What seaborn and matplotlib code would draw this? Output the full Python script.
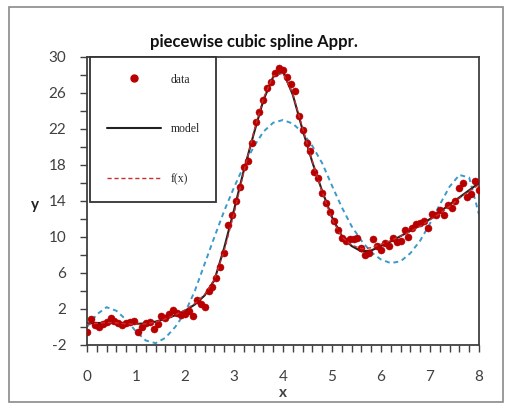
import numpy as np
import pandas as pd
import matplotlib
matplotlib.use("Agg")
import matplotlib.pyplot as plt
from matplotlib.lines import Line2D
from matplotlib.patches import Rectangle
from matplotlib.ticker import MultipleLocator
import seaborn as sns

# ---- data ----
data_x = [round(0.08 * i, 2) for i in range(101)]
data_y = [-0.6, 0.9, 0.2, 0.0, 0.3, 0.6, 1.0, 0.7, 0.4, 0.2,
          0.5, 0.6, 0.7, -0.5, 0.0, 0.5, 0.6, -0.2, 0.3, 1.2,
          1.0, 1.5, 1.9, 1.6, 1.3, 1.5, 1.8, 1.2, 3.0, 2.6,
          2.2, 4.0, 4.4, 5.5, 6.7, 8.2, 11.3, 12.4, 14.0, 15.6,
          17.8, 18.4, 20.4, 22.8, 23.9, 25.2, 26.6, 27.2, 28.2, 28.8,
          28.6, 27.8, 27.0, 26.2, 23.5, 21.9, 20.4, 19.6, 17.2, 16.6,
          14.9, 13.8, 12.8, 11.8, 10.8, 9.9, 9.6, 9.8, 9.8, 9.9,
          8.8, 8.0, 8.2, 9.8, 9.0, 8.6, 9.3, 9.0, 9.9, 9.4,
          9.6, 10.8, 10.0, 11.0, 11.4, 11.6, 11.8, 11.0, 12.6, 12.4,
          13.0, 12.4, 13.6, 13.2, 14.0, 15.4, 16.0, 14.4, 14.8, 16.2,
          15.2]

curve_x = [round(0.2 * i, 1) for i in range(41)]
model_y = [0.4, 0.45, 0.45, 0.4, 0.35, 0.35, 0.4, 0.6, 0.9, 1.3,
           1.8, 2.5, 3.5, 5.2, 8.8, 13.0, 17.4, 21.4, 25.2, 27.8,
           28.4, 25.8, 21.9, 18.3, 15.1, 12.2, 10.1, 9.0, 8.4, 8.5,
           9.0, 9.5, 10.1, 10.7, 11.3, 12.0, 12.8, 13.6, 14.4, 15.2,
           16.0]
fx_y = [0.3, 0.4, 0.5, 0.45, 0.35, 0.3, 0.35, 0.55, 0.9, 1.35,
        1.9, 2.6, 3.6, 5.3, 8.5, 12.6, 17.2, 21.6, 25.4, 27.9,
        28.2, 25.9, 22.1, 18.4, 15.0, 12.0, 10.0, 9.1, 8.7, 8.8,
        9.2, 9.6, 10.1, 10.6, 11.2, 11.9, 12.6, 13.4, 14.3, 15.1,
        15.8]
approx_y = [0.0, 1.4, 2.2, 1.8, 0.8, -0.5, -1.5, -1.8, -1.2, 0.0,
            1.6, 4.0, 7.0, 10.0, 12.9, 15.5, 17.9, 20.0, 21.7, 22.7,
            23.0, 22.6, 21.6, 20.1, 18.2, 15.7, 13.3, 11.2, 9.6, 8.3,
            7.5, 7.1, 7.3, 8.2, 9.6, 11.5, 13.6, 15.6, 16.9, 16.6,
            12.5]

title = "piecewise cubic spline Appr."
legend_labels = ["data", "model", "f(x)"]
x_ticks = [0, 1, 2, 3, 4, 5, 6, 7, 8]
y_ticks = [-2, 2, 6, 10, 14, 18, 22, 26, 30]

df_data = pd.DataFrame({"x": data_x, "y": data_y})
df_curves = pd.DataFrame({"x": curve_x, "model": model_y, "fx": fx_y, "approx": approx_y})

sns.set_style("ticks")
plt.rcParams["axes.unicode_minus"] = False
plt.rcParams["font.family"] = ["Lato", "DejaVu Sans"]

fig = plt.figure(figsize=(5.08, 4.04), dpi=100)
ax = fig.add_axes([87/508, 1 - 345/404, 392/508, 288/404])

red = "#B80000"
blue = "#3A9AC9"
fx_red = "#C83030"

sns.lineplot(data=df_curves, x="x", y="approx", ax=ax, color=blue, lw=1.4,
             linestyle=(0, (2.5, 2)), zorder=2)
sns.lineplot(data=df_curves, x="x", y="model", ax=ax, color="#222222", lw=1.5, zorder=3)
sns.scatterplot(data=df_data, x="x", y="y", ax=ax, color=red, s=26, edgecolor=red,
                linewidth=0.3, zorder=4)
sns.lineplot(data=df_curves, x="x", y="fx", ax=ax, color=fx_red, lw=1.0,
             linestyle=(0, (3, 2)), zorder=5)

ax.set_xlim(0, 8)
ax.set_ylim(-2, 30)
ax.set_xticks(x_ticks)
ax.set_yticks(y_ticks)
ax.xaxis.set_minor_locator(MultipleLocator(0.2))
ax.yaxis.set_minor_locator(MultipleLocator(2))
ax.tick_params(axis="both", which="both", direction="out", length=5, width=1,
               color="#404040", labelcolor="#404040", labelsize=11)
ax.tick_params(axis="x", which="major", pad=13)
ax.tick_params(axis="y", which="major", pad=10)
for sp in ax.spines.values():
    sp.set_visible(True)
    sp.set_color("#404040")
    sp.set_linewidth(1.3)

ax.set_xlabel("")
ax.set_ylabel("")
fig.text(283/508, 1 - 393/404, "x", ha="center", va="center", fontsize=11,
         fontweight="bold", color="#404040")
fig.text(35/508, 1 - 205/404, "y", ha="center", va="center", fontsize=11,
         fontweight="bold", color="#222222")
fig.text(0.5, 1 - 42/404, title, ha="center", va="center", fontsize=12,
         fontweight="bold", color="#111111")

handles = [
    Line2D([], [], marker="o", color=red, linestyle="none", markersize=5),
    Line2D([], [], color="#222222", lw=1.5),
    Line2D([], [], color=fx_red, lw=1.0, linestyle=(0, (3, 2))),
]
leg = ax.legend(handles, legend_labels, loc="upper left",
                bbox_to_anchor=(0.008, 1.0), frameon=True, fancybox=False,
                prop={"family": "Liberation Serif", "size": 8.5},
                labelspacing=3.2, borderpad=1.4, handlelength=4.6,
                handletextpad=0.8, borderaxespad=0.0)
frame = leg.get_frame()
frame.set_edgecolor("#333333")
frame.set_linewidth(1.3)
frame.set_alpha(1)

fig.patches.append(Rectangle((9/508, 1 - 402/404), 494/508, 395/404,
                             transform=fig.transFigure, fill=False,
                             edgecolor="#8a8a8a", lw=1.2))

fig.savefig("out.png", dpi=100)
